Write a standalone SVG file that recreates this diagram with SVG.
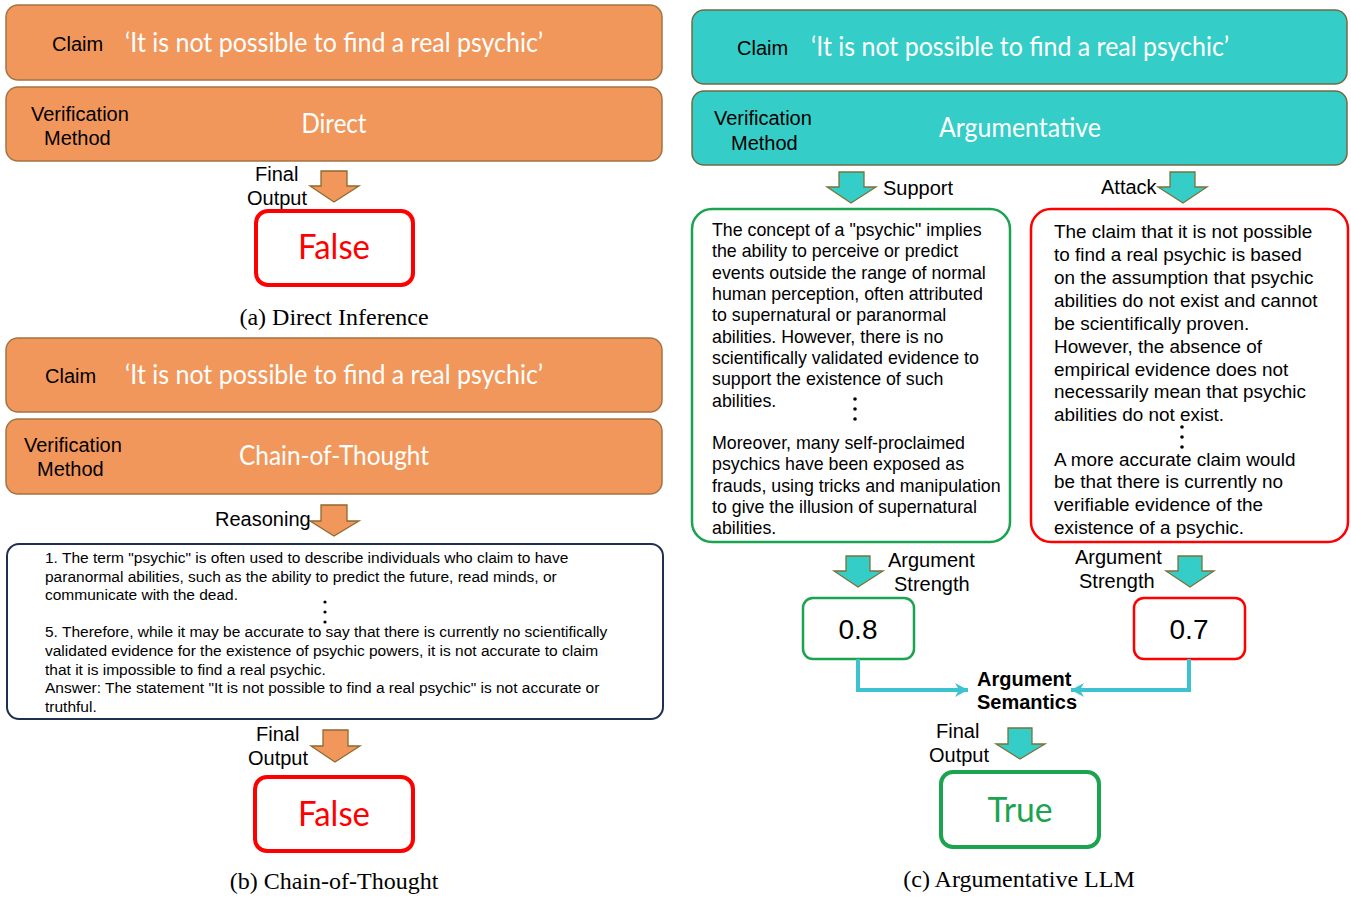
<svg xmlns="http://www.w3.org/2000/svg" width="1351" height="898" viewBox="0 0 1351 898">
<style>
.bg{fill:#ffffff}
.ob{fill:#F1975B;stroke:#A27443;stroke-width:1.5}
.tb{fill:#35CDC7;stroke:#6F6B44;stroke-width:1.5}
.oa{fill:#F1975B;stroke:#8E6A2E;stroke-width:1.3}
.ta{fill:#35CDC7;stroke:#7A7338;stroke-width:1.3}
.lab{font-family:"Liberation Sans",Arial,sans-serif;font-size:20px;fill:#000}
.labb{font-family:"Liberation Sans",Arial,sans-serif;font-size:20px;font-weight:bold;fill:#000}
.wt{font-family:Lato,"Open Sans",sans-serif;font-size:26px;fill:#ffffff}
.big{font-family:Lato,"Open Sans",sans-serif;font-size:35px}
.cap{font-family:"Liberation Serif","Times New Roman",serif;font-size:24px;fill:#000}
.cot{font-family:"Liberation Sans",Arial,sans-serif;font-size:15.5px;fill:#000}
.sup{font-family:"Liberation Sans",Arial,sans-serif;font-size:17.8px;fill:#000}
.att{font-family:"Liberation Sans",Arial,sans-serif;font-size:18.9px;fill:#000}
.num{font-family:"Liberation Sans",Arial,sans-serif;font-size:28px;fill:#000}
.conn{fill:none;stroke:#3CC3CF;stroke-width:4}
.dot{fill:#000}
</style>
<defs>
<marker id="ah" markerWidth="14" markerHeight="14" refX="13" refY="7" orient="auto" markerUnits="userSpaceOnUse" viewBox="0 0 14 14">
<path d="M0,0 L13,7 L0,14 L4,7 Z" fill="#3CC3CF"/>
</marker>
</defs>
<rect class="bg" x="0" y="0" width="1351" height="898"/>

<!-- Panel (a) -->
<g id="a-claim">
<rect class="ob" x="6" y="5" width="656" height="75" rx="12"/>
<text class="lab" x="52" y="51">Claim</text>
<text class="wt" x="125" y="52" textLength="418" lengthAdjust="spacingAndGlyphs">‘It is not possible to find a real psychic’</text>
</g>
<g id="a-method">
<rect class="ob" x="6" y="87" width="656" height="74" rx="12"/>
<text class="lab" x="31" y="121">Verification</text>
<text class="lab" x="44" y="145">Method</text>
<text class="wt" x="334" y="133" text-anchor="middle" textLength="65" lengthAdjust="spacingAndGlyphs">Direct</text>
</g>
<g id="a-arrow">
<path class="oa" d="M321,171 L347,171 L347,186 L359,186 L334,202 L310,186 L321,186 Z"/>
<text class="lab" x="255" y="181">Final</text>
<text class="lab" x="247" y="205">Output</text>
</g>
<g id="a-output">
<rect x="256" y="211" width="157" height="74" rx="12" fill="#fff" stroke="#FF0000" stroke-width="4"/>
<text class="big" x="334" y="259" text-anchor="middle" fill="#FF0000" textLength="72" lengthAdjust="spacingAndGlyphs">False</text>
</g>
<text class="cap" x="334" y="325" text-anchor="middle">(a) Direct Inference</text>

<!-- Panel (b) -->
<g id="b-claim">
<rect class="ob" x="6" y="338" width="656" height="74" rx="12"/>
<text class="lab" x="45" y="383">Claim</text>
<text class="wt" x="125" y="384" textLength="418" lengthAdjust="spacingAndGlyphs">‘It is not possible to find a real psychic’</text>
</g>
<g id="b-method">
<rect class="ob" x="6" y="419" width="656" height="75" rx="12"/>
<text class="lab" x="24" y="452">Verification</text>
<text class="lab" x="37" y="476">Method</text>
<text class="wt" x="334" y="465" text-anchor="middle" textLength="190" lengthAdjust="spacingAndGlyphs">Chain-of-Thought</text>
</g>
<g id="b-reason-arrow">
<path class="oa" d="M321,505 L347,505 L347,521 L359,521 L334,536 L310,521 L321,521 Z"/>
<text class="lab" x="215" y="526">Reasoning</text>
</g>
<g id="b-reasoning">
<rect x="7" y="544" width="656" height="175" rx="12" fill="#fff" stroke="#1F2F4F" stroke-width="2"/>
<text class="cot" x="45" y="563">1. The term "psychic" is often used to describe individuals who claim to have</text>
<text class="cot" x="45" y="582">paranormal abilities, such as the ability to predict the future, read minds, or</text>
<text class="cot" x="45" y="600">communicate with the dead.</text>
<circle class="dot" cx="325" cy="602" r="1.6"/>
<circle class="dot" cx="325" cy="612" r="1.6"/>
<circle class="dot" cx="325" cy="622" r="1.6"/>
<text class="cot" x="45" y="637">5. Therefore, while it may be accurate to say that there is currently no scientifically</text>
<text class="cot" x="45" y="656">validated evidence for the existence of psychic powers, it is not accurate to claim</text>
<text class="cot" x="45" y="675">that it is impossible to find a real psychic.</text>
<text class="cot" x="45" y="693">Answer: The statement "It is not possible to find a real psychic" is not accurate or</text>
<text class="cot" x="45" y="712">truthful.</text>
</g>
<g id="b-arrow">
<path class="oa" d="M323,730 L348,730 L348,746 L360,746 L335,762 L311,746 L323,746 Z"/>
<text class="lab" x="256" y="741">Final</text>
<text class="lab" x="248" y="765">Output</text>
</g>
<g id="b-output">
<rect x="255" y="777" width="158" height="74" rx="12" fill="#fff" stroke="#FF0000" stroke-width="4"/>
<text class="big" x="334" y="826" text-anchor="middle" fill="#FF0000" textLength="72" lengthAdjust="spacingAndGlyphs">False</text>
</g>
<text class="cap" x="334" y="889" text-anchor="middle">(b) Chain-of-Thought</text>

<!-- Panel (c) -->
<g id="c-claim">
<rect class="tb" x="692" y="10" width="655" height="74" rx="12"/>
<text class="lab" x="737" y="55">Claim</text>
<text class="wt" x="811" y="56" textLength="418" lengthAdjust="spacingAndGlyphs">‘It is not possible to find a real psychic’</text>
</g>
<g id="c-method">
<rect class="tb" x="692" y="91" width="655" height="74" rx="12"/>
<text class="lab" x="714" y="125">Verification</text>
<text class="lab" x="731" y="150">Method</text>
<text class="wt" x="1020" y="137" text-anchor="middle" textLength="162" lengthAdjust="spacingAndGlyphs">Argumentative</text>
</g>
<g id="c-support-arrow">
<path class="ta" d="M839,172 L864,172 L864,187 L876,187 L851,203 L827,187 L839,187 Z"/>
<text class="lab" x="883" y="195">Support</text>
</g>
<g id="c-attack-arrow">
<path class="ta" d="M1170,172 L1195,172 L1195,187 L1207,187 L1183,203 L1158,187 L1170,187 Z"/>
<text class="lab" x="1101" y="194">Attack</text>
</g>
<g id="c-support">
<rect x="692" y="209" width="318" height="333" rx="20" fill="#fff" stroke="#1BA350" stroke-width="2.5"/>
<text class="sup" x="712" y="236">The concept of a "psychic" implies</text>
<text class="sup" x="712" y="257">the ability to perceive or predict</text>
<text class="sup" x="712" y="279">events outside the range of normal</text>
<text class="sup" x="712" y="300">human perception, often attributed</text>
<text class="sup" x="712" y="321">to supernatural or paranormal</text>
<text class="sup" x="712" y="343">abilities. However, there is no</text>
<text class="sup" x="712" y="364">scientifically validated evidence to</text>
<text class="sup" x="712" y="385">support the existence of such</text>
<text class="sup" x="712" y="407">abilities.</text>
<circle class="dot" cx="855" cy="399" r="1.8"/>
<circle class="dot" cx="855" cy="409" r="1.8"/>
<circle class="dot" cx="855" cy="419" r="1.8"/>
<text class="sup" x="712" y="449">Moreover, many self-proclaimed</text>
<text class="sup" x="712" y="470">psychics have been exposed as</text>
<text class="sup" x="712" y="492">frauds, using tricks and manipulation</text>
<text class="sup" x="712" y="513">to give the illusion of supernatural</text>
<text class="sup" x="712" y="534">abilities.</text>
</g>
<g id="c-attack">
<rect x="1031" y="209" width="317" height="333" rx="20" fill="#fff" stroke="#FF0000" stroke-width="2.5"/>
<text class="att" x="1054" y="238">The claim that it is not possible</text>
<text class="att" x="1054" y="261">to find a real psychic is based</text>
<text class="att" x="1054" y="284">on the assumption that psychic</text>
<text class="att" x="1054" y="307">abilities do not exist and cannot</text>
<text class="att" x="1054" y="330">be scientifically proven.</text>
<text class="att" x="1054" y="353">However, the absence of</text>
<text class="att" x="1054" y="376">empirical evidence does not</text>
<text class="att" x="1054" y="398">necessarily mean that psychic</text>
<text class="att" x="1054" y="421">abilities do not exist.</text>
<circle class="dot" cx="1182" cy="427" r="1.8"/>
<circle class="dot" cx="1182" cy="437" r="1.8"/>
<circle class="dot" cx="1182" cy="447" r="1.8"/>
<text class="att" x="1054" y="466">A more accurate claim would</text>
<text class="att" x="1054" y="488">be that there is currently no</text>
<text class="att" x="1054" y="511">verifiable evidence of the</text>
<text class="att" x="1054" y="534">existence of a psychic.</text>
</g>
<g id="c-strength-left-arrow">
<path class="ta" d="M846,556 L870,556 L870,571 L883,571 L858,587 L834,571 L846,571 Z"/>
<text class="lab" x="888" y="567">Argument</text>
<text class="lab" x="894" y="591">Strength</text>
</g>
<g id="c-strength-right-arrow">
<path class="ta" d="M1178,556 L1202,556 L1202,571 L1214,571 L1190,587 L1166,571 L1178,571 Z"/>
<text class="lab" x="1075" y="564">Argument</text>
<text class="lab" x="1079" y="588">Strength</text>
</g>
<g id="c-score-support">
<rect x="803" y="598" width="111" height="61" rx="10" fill="#fff" stroke="#1BA350" stroke-width="2.5"/>
<text class="num" x="858" y="639" text-anchor="middle">0.8</text>
</g>
<g id="c-score-attack">
<rect x="1134" y="598" width="111" height="61" rx="10" fill="#fff" stroke="#FF0000" stroke-width="2.5"/>
<text class="num" x="1189" y="639" text-anchor="middle">0.7</text>
</g>
<g id="connectors">
<path class="conn" d="M858,659 L858,690 L968,690" marker-end="url(#ah)"/>
<path class="conn" d="M1189,659 L1189,690 L1071,690" marker-end="url(#ah)"/>
</g>
<g id="c-semantics">
<text class="labb" x="977" y="686">Argument</text>
<text class="labb" x="977" y="709">Semantics</text>
</g>
<g id="c-final-arrow">
<path class="ta" d="M1008,728 L1032,728 L1032,744 L1045,744 L1020,759 L996,744 L1008,744 Z"/>
<text class="lab" x="936" y="738">Final</text>
<text class="lab" x="929" y="762">Output</text>
</g>
<g id="c-output">
<rect x="941" y="772" width="158" height="75" rx="12" fill="#fff" stroke="#1BA350" stroke-width="4"/>
<text class="big" x="1020" y="822" text-anchor="middle" fill="#1BA350" textLength="65" lengthAdjust="spacingAndGlyphs">True</text>
</g>
<text class="cap" x="1019" y="887" text-anchor="middle">(c) Argumentative LLM</text>
</svg>
